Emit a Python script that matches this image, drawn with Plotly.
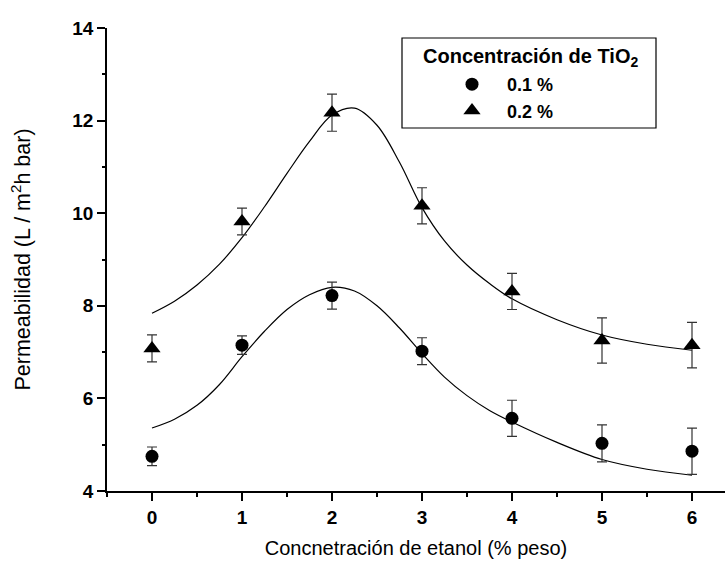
import plotly.graph_objects as go

# ---- data ----
etanol = [0, 1, 2, 3, 4, 5, 6]
perm_01 = [4.75, 7.15, 8.22, 7.02, 5.57, 5.03, 4.86]
err_01 = [0.20, 0.20, 0.29, 0.29, 0.39, 0.40, 0.50]
perm_02 = [7.08, 9.82, 12.17, 10.16, 8.31, 7.25, 7.15]
err_02 = [0.29, 0.29, 0.40, 0.39, 0.39, 0.49, 0.49]

# fitted curves
fit_x_01 = [0, 0.25, 0.5, 0.75, 1, 1.25, 1.5, 1.75, 2, 2.25, 2.5, 2.75, 3, 3.25, 3.5, 3.75, 4, 4.5, 5, 5.5, 6]
fit_y_01 = [5.36, 5.55, 5.85, 6.3, 6.9, 7.45, 7.92, 8.24, 8.4, 8.32, 8.0, 7.52, 6.97, 6.46, 6.06, 5.74, 5.49, 5.05, 4.68, 4.47, 4.34]
fit_x_02 = [0, 0.25, 0.5, 0.75, 1, 1.25, 1.5, 1.75, 2, 2.25, 2.5, 2.75, 3, 3.25, 3.5, 3.75, 4, 4.5, 5, 5.5, 6]
fit_y_02 = [7.84, 8.1, 8.45, 8.9, 9.47, 10.14, 10.86, 11.55, 12.12, 12.27, 11.9, 11.1, 10.12, 9.4, 8.88, 8.48, 8.15, 7.7, 7.37, 7.17, 7.04]

x_ticks = [0, 1, 2, 3, 4, 5, 6]
y_ticks = [4, 6, 8, 10, 12, 14]
legend_title = "<b>Concentración de TiO<sub>2</sub></b>"
names = ["0.1 %", "0.2 %"]

FONT = "Liberation Sans, Arial, sans-serif"
FS = 19
NB = "\u00a0\u00a0\u00a0"

fig = go.Figure()

for fx, fy in ((fit_x_01, fit_y_01), (fit_x_02, fit_y_02)):
    fig.add_trace(go.Scatter(x=fx, y=fy, mode="lines",
                             line=dict(color="black", width=1.2, shape="spline", smoothing=1),
                             showlegend=False, hoverinfo="skip"))

fig.add_trace(go.Scatter(x=etanol, y=perm_01, mode="markers", name=NB + "<b>" + names[0] + "</b>",
                         marker=dict(symbol="circle", size=13, color="black"),
                         error_y=dict(type="data", array=err_01, color="#333", thickness=1.2, width=5)))
fig.add_trace(go.Scatter(x=etanol, y=perm_02, mode="markers", name=NB + "<b>" + names[1] + "</b>",
                         marker=dict(symbol="triangle-up", size=15, color="black"),
                         error_y=dict(type="data", array=err_02, color="#333", thickness=1.2, width=5)))

L, R, T, B = 107, 725, 28, 491
W, H = R - L, B - T
def px(x):
    return (x - L) / W
def py(y):
    return (B - y) / H

fig.update_layout(
    width=725, height=563,
    margin=dict(l=L, r=725 - R, t=T, b=563 - B),
    plot_bgcolor="white", paper_bgcolor="white",
    font=dict(family=FONT, size=FS, color="black"),
    xaxis=dict(range=[-0.5, -0.5 + W / 90.0], tickvals=x_ticks, ticktext=[str(v) for v in x_ticks],
               ticks="outside", ticklen=8, tickwidth=1.5, tickcolor="black",
               minor=dict(dtick=0.5, tick0=0, ticks="outside", ticklen=4, tickwidth=1.5, tickcolor="black"),
               showline=True, linewidth=1.5, linecolor="black", showgrid=False, zeroline=False,
               tickfont=dict(family=FONT, size=FS, color="black", weight="bold"),
               title=dict(text="Concnetración de etanol (% peso)", font=dict(family=FONT, size=20), standoff=14)),
    xaxis2=dict(range=[-0.5, -0.5 + W / 90.0], overlaying="x", side="top", tickvals=x_ticks,
                ticks="inside", ticklen=7, tickwidth=1.5, tickcolor="black", showticklabels=False,
                minor=dict(dtick=0.5, tick0=0, ticks="inside", ticklen=4, tickwidth=1.5, tickcolor="black"),
                showline=True, linewidth=1.5, linecolor="black", showgrid=False, zeroline=False),
    yaxis=dict(range=[4, 14], tickvals=y_ticks, ticktext=[str(v) for v in y_ticks],
               ticks="outside", ticklen=8, tickwidth=1.5, tickcolor="black",
               minor=dict(dtick=1, tick0=0, ticks="outside", ticklen=3, tickwidth=1.5, tickcolor="black"),
               showline=True, linewidth=1.5, linecolor="black", showgrid=False, zeroline=False,
               tickfont=dict(family=FONT, size=FS, color="black", weight="bold"),
               title=dict(text="Permeabilidad (L / m<sup>2</sup>h bar)", font=dict(family=FONT, size=21.5), standoff=36)),
    legend=dict(x=px(452), y=py(66), xanchor="left", yanchor="top", bgcolor="rgba(0,0,0,0)",
                borderwidth=0, font=dict(family=FONT, size=18, color="black"), tracegroupgap=0),
    shapes=[dict(type="rect", xref="paper", yref="paper", x0=px(402), x1=px(656), y0=py(128), y1=py(38),
                 line=dict(color="black", width=1.2), fillcolor="white", layer="below")],
    annotations=[dict(text=legend_title, xref="paper", yref="paper", x=px(530), y=py(57),
                      xanchor="center", yanchor="middle", showarrow=False,
                      font=dict(family=FONT, size=20, color="black"))],
)

fig.write_html("out.html")
